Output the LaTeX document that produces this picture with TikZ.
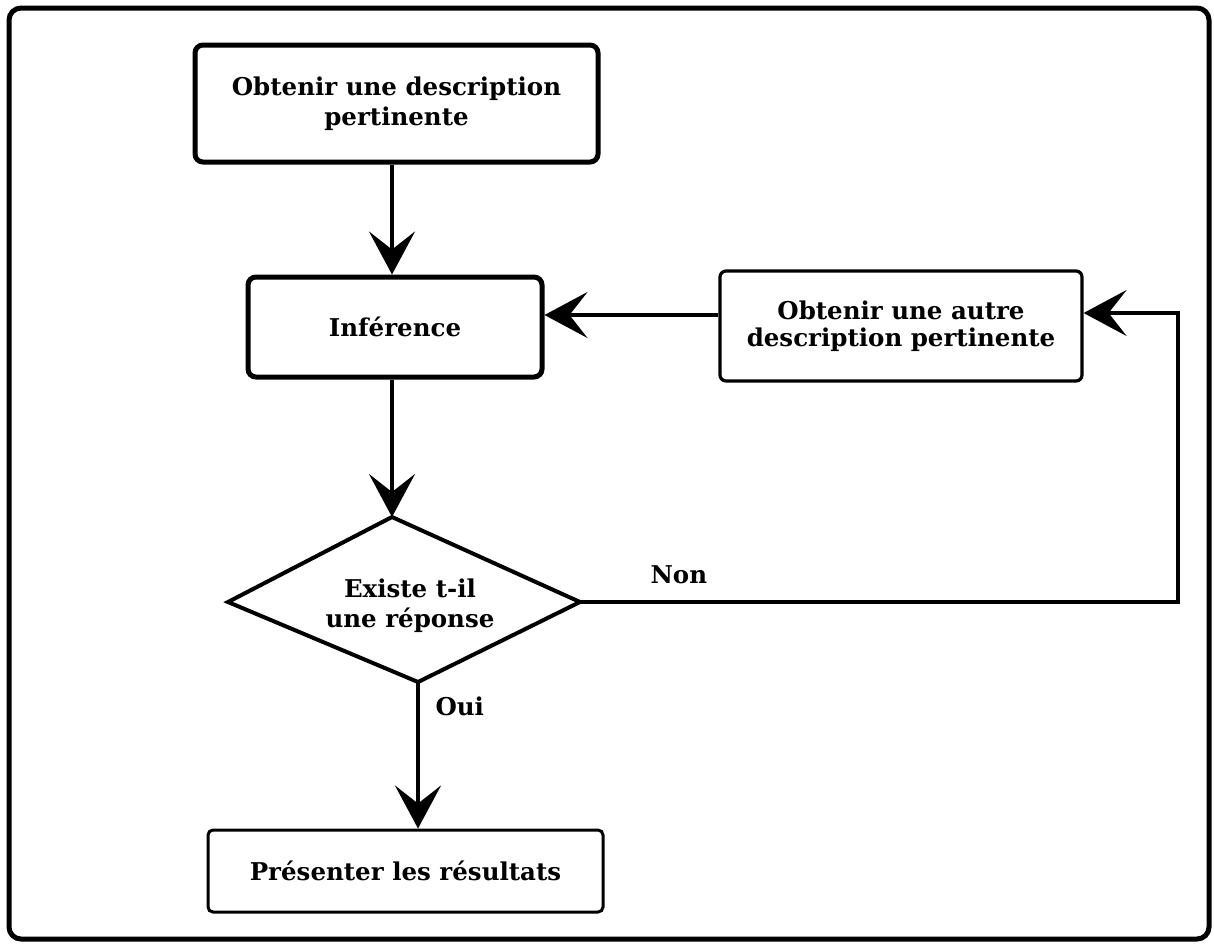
\documentclass[tikz,border=0pt]{standalone}
\usepackage{fontspec}
\setmainfont{DejaVu Serif}
\usetikzlibrary{arrows.meta}
\begin{document}
\begin{tikzpicture}[x=1pt,y=-1pt,
  lbl/.style={font=\fontsize{24.5}{30}\selectfont\bfseries, align=center},
  thickbox/.style={lbl, draw, line width=5pt, rounded corners=8pt, inner sep=0pt},
  thinbox/.style={lbl, draw, line width=3.2pt, rounded corners=6pt, inner sep=0pt},
  conn/.style={line width=3.2pt, -{Stealth[length=43pt, width=46pt, inset=18pt]}},
  plainline/.style={line width=3.2pt}
]
\useasboundingbox (0,0) rectangle (1214,943);
% outer frame
\draw[line width=5pt, rounded corners=12pt] (9,8) rectangle (1209,939);

\node[thickbox, minimum width=403pt, minimum height=117pt] (desc) at (396.5,103.5)
  {Obtenir une description\\pertinente};
\node[thickbox, minimum width=294pt, minimum height=100pt] (inf) at (395,327) {Inférence};
\node[thinbox, minimum width=362pt, minimum height=110pt] (autre) at (901,326)
  {Obtenir une autre\\[-3pt]description pertinente};
\node[thinbox, line width=3pt, rounded corners=5pt, minimum width=395pt, minimum height=82pt] (pres) at (405.5,871)
  {Présenter les résultats};

% decision diamond
\coordinate (dT) at (392,517);
\coordinate (dR) at (580,602);
\coordinate (dB) at (418,682);
\coordinate (dL) at (228,602);
\draw[line width=4pt, line join=miter] (dT) -- (dR) -- (dB) -- (dL) -- cycle;
\node[lbl] (dtext) at (410,606) {Existe t-il\\une réponse};

\coordinate (lc) at (1178,313);

% connectors
\draw[conn] (desc.south -| dT) -- (dT |- inf.north);
\draw[conn] (inf.south -| dT) -- (dT);
\draw[conn] ([yshift=11pt]autre.west) -- ([yshift=11pt]autre.west -| inf.east);
\draw[conn] (dB) -- (dB |- pres.north);
\draw[conn] (dR) -| (lc) -- (lc -| autre.east);

\node[lbl, anchor=base west] (non) at (647,583) {Non};
\node[lbl, anchor=base west] (oui) at (432,715) {Oui};
\end{tikzpicture}
\end{document}
